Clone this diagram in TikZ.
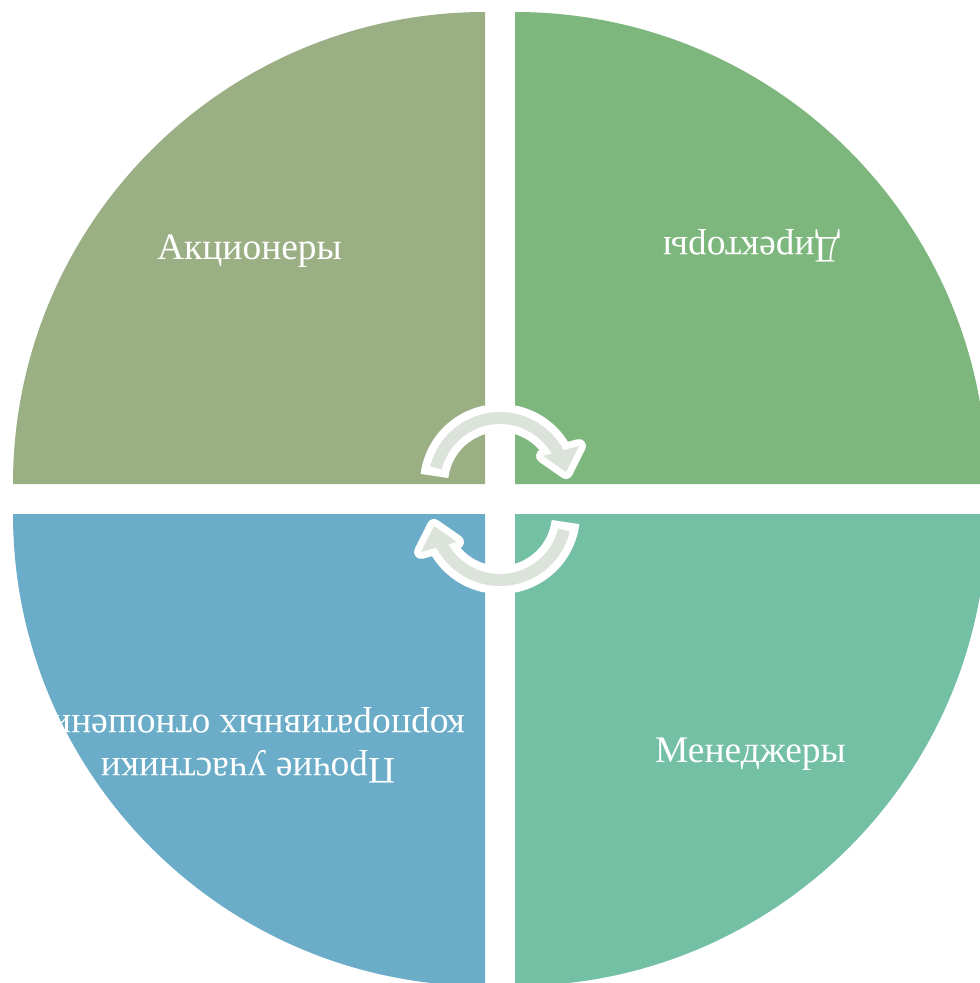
\documentclass[tikz,border=0pt]{standalone}
\usepackage{fontspec}
\setmainfont{Liberation Serif}
\definecolor{qtl}{HTML}{9BAF85}
\definecolor{qtr}{HTML}{7EB77E}
\definecolor{qbr}{HTML}{73C0A4}
\definecolor{qbl}{HTML}{6BADC8}
\definecolor{arrowgray}{HTML}{DCE3DA}
\begin{document}
\begin{tikzpicture}[x=1pt,y=1pt,
  quad/.style={draw=none},
  lbl/.style={text=white,font=\fontsize{37.5}{43}\selectfont,inner sep=0pt,anchor=base,align=center},
  whiteband/.style={draw=white,line width=28pt},
  grayband/.style={draw=arrowgray,line width=12pt},
  headout/.style={draw=white,fill=white,line width=14pt,line join=round},
  headin/.style={fill=arrowgray,draw=none}]
\useasboundingbox (0,0) rectangle (980,-983);
\fill[white] (0,0) rectangle (980,-983);
% quadrants
\begin{scope}
\clip (0,0) rectangle (980,-983);
\fill[qtl,quad] (485,-484) -- (13,-484) arc[start angle=180,end angle=90,radius=472] -- cycle;
\fill[qtr,quad] (515,-484) -- (515,-12) arc[start angle=90,end angle=0,radius=472] -- cycle;
\fill[qbr,quad] (515,-514) -- (987,-514) arc[start angle=0,end angle=-90,radius=472] -- cycle;
\end{scope}
\begin{scope}
\clip (485,-514) -- (485,-986) arc[start angle=270,end angle=180,radius=472] -- cycle;
\fill[qbl,quad] (485,-514) -- (485,-986) arc[start angle=270,end angle=180,radius=472] -- cycle;
\node[lbl,rotate=180] (others) at (248,-715) {Прочие участники\\корпоративных отношений};
\end{scope}
% labels
\node[lbl] (shareholders) at (249.5,-259) {Акционеры};
\node[lbl,rotate=180] (directors) at (751.5,-237) {Директоры};
\node[lbl] (managers) at (750.5,-762) {Менеджеры};
% cycle arrows
\foreach \ang in {0,180}{
\begin{scope}[rotate around={\ang:(500,-499)}]
\draw[whiteband] ([shift={(500,-484)}]173:66) arc[start angle=173,end angle=27,radius=66];
\filldraw[headout] (543,-456) -- (579,-446) -- (566,-472) -- cycle;
\draw[grayband] ([shift={(500,-484)}]166:66) arc[start angle=166,end angle=27,radius=66];
\fill[headin] (543,-456) -- (579,-446) -- (566,-472) -- cycle;
\end{scope}
}
\end{tikzpicture}
\end{document}
